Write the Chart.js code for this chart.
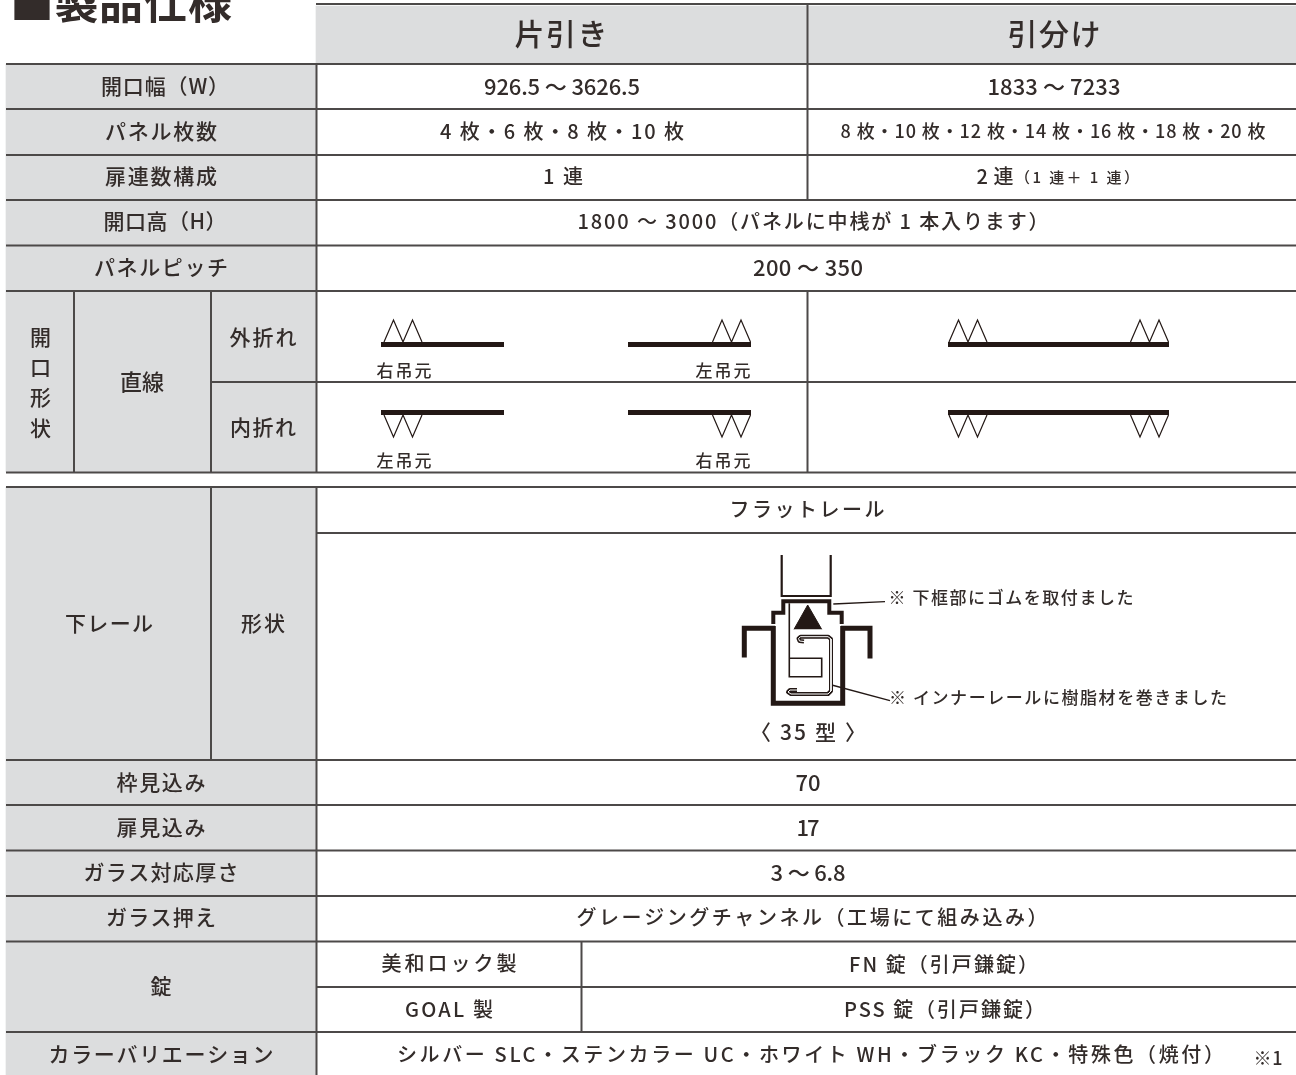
<!DOCTYPE html>
<html lang="ja">
<head>
<meta charset="utf-8">
<title>製品仕様</title>
<script src="https://cdn.jsdelivr.net/npm/chart.js@4"></script>
<style>
  html, body { margin: 0; padding: 0; background: #fff; }
  canvas { display: block; }
</style>
</head>
<body>
<canvas id="myChart" width="1296" height="1075"></canvas>
<script>
// table contents
const heading = ['■製品仕様'];
const columnHeads = ['片引き', '引分け'];
const upperLabels = ['開口幅（W）', 'パネル枚数', '扉連数構成', '開口高（H）', 'パネルピッチ'];
const katabikiValues = ['926.5 〜 3626.5', '4 枚・6 枚・8 枚・10 枚', '1 連'];
const hikiwakeValues = ['1833 〜 7233', '8 枚・10 枚・12 枚・14 枚・16 枚・18 枚・20 枚', '2 連', '（1 連＋ 1 連）'];
const sharedValues = ['1800 〜 3000（パネルに中桟が 1 本入ります）', '200 〜 350'];
const openingLabels = ['開', '口', '形', '状', '直線', '外折れ', '内折れ'];
const hangLabels = ['右吊元', '左吊元', '左吊元', '右吊元'];
const railLabels = ['下レール', '形状', 'フラットレール', '※ 下框部にゴムを取付ました', '※ インナーレールに樹脂材を巻きました', '〈 35 型 〉'];
const lowerLabels = ['枠見込み', '扉見込み', 'ガラス対応厚さ', 'ガラス押え', '錠', 'カラーバリエーション'];
const lowerValues = ['70', '17', '3 〜 6.8', 'グレージングチャンネル（工場にて組み込み）'];
const lockMakers = ['美和ロック製', 'GOAL 製'];
const lockTypes = ['FN 錠（引戸鎌錠）', 'PSS 錠（引戸鎌錠）'];
const colorValues = ['シルバー SLC・ステンカラー UC・ホワイト WH・ブラック KC・特殊色（焼付）', '※1'];

const GRAY = '#dcddde';
const RULE = '#4c4948';
const INK = '#231815';
const TEXT = '#332c2a';
const FONT = '"Noto Sans CJK JP", "Noto Sans", sans-serif';

// text placement: [centre x, centre y, font size, width on the page]
function place(texts, spots, weight) {
    return texts.map((t, i) => ({ t: t, x: spots[i][0], y: spots[i][1], size: spots[i][2], w: spots[i][3], weight: weight || 500 }));
}
const labels = [].concat(
    place(heading, [[121, 3, 44, 222]], 700),
    place(columnHeads, [[561, 34, 30, 93], [1054, 34, 30, 93]]),
    place(upperLabels, [[165, 87, 21, 128], [161, 132, 21, 112], [161, 177, 21, 112], [165, 222, 21, 123], [161, 268, 21, 134]]),
    place(katabikiValues, [[562, 87, 22, 156], [562, 132, 20, 244], [563, 177, 20, 40]]),
    place(hikiwakeValues, [[1054, 87, 22, 133], [1053, 132, 18, 425], [995, 177, 20, 37], [1077, 178, 15, 124]]),
    place(sharedValues, [[813, 222, 20, 471], [808, 268, 22, 110]]),
    place(openingLabels, [[40, 338, 21, 20], [40, 368, 21, 20], [40, 398, 21, 20], [40, 429, 21, 20],
        [142, 382, 22, 44], [263, 338, 21, 67], [263, 428, 21, 66]]),
    place(hangLabels, [[404, 371, 17, 55], [723, 371, 17, 55], [404, 461, 17, 55], [723, 461, 17, 55]]),
    place(railLabels, [[109, 624, 21, 88], [263, 624, 21, 44], [807, 510, 20, 155],
        [1011, 598, 17, 245], [1058, 698, 17, 338], [808, 733, 21, 116]]),
    place(lowerLabels, [[161, 783, 21, 89], [161, 828, 21, 89], [161, 873, 21, 155], [161, 918, 21, 110], [161, 987, 21, 21], [161, 1055, 21, 225]]),
    place(lowerValues, [[808, 783, 22, 25], [808, 828, 22, 23], [808, 873, 22, 75], [812, 918, 20, 471]]),
    place(lockMakers, [[449, 964, 20, 135], [449, 1010, 20, 88]]),
    place(lockTypes, [[943.5, 965, 20, 189], [944.5, 1010, 20, 201]]),
    place(colorValues, [[810.5, 1055, 20, 827], [1268, 1059, 18, 29]])
);

// gray cells: [left, right, top, bottom]
const grayCells = [
    [316, 1296, 6, 64],
    [6, 316, 64, 291],
    [6, 316, 291, 472],
    [6, 316, 487, 760],
    [6, 316, 760, 1075]
];
// rules: [x1, y1, x2, y2]
const rules = [
    [316, 4, 1296, 4], [6, 64, 1296, 64], [6, 109, 1296, 109], [6, 155, 1296, 155], [6, 200, 1296, 200],
    [6, 245.5, 1296, 245.5], [6, 291, 1296, 291], [211, 382, 1296, 382], [6, 472.5, 1296, 472.5],
    [6, 487, 1296, 487], [316, 533, 1296, 533], [6, 760, 1296, 760], [6, 805, 1296, 805], [6, 850.5, 1296, 850.5],
    [6, 896, 1296, 896], [6, 941.5, 1296, 941.5], [316, 987, 1296, 987], [6, 1032, 1296, 1032],
    [74, 291, 74, 472], [211, 291, 211, 472], [211, 487, 211, 760],
    [316.5, 64, 316.5, 472], [316.5, 487, 316.5, 1075],
    [807.5, 4, 807.5, 200], [807.5, 291, 807.5, 472], [581.5, 941, 581.5, 1032]
];

function poly(points, width, color, extra) {
    return Object.assign({
        type: 'scatter',
        showLine: true,
        data: points.map(p => ({ x: p[0], y: p[1] })),
        borderColor: color,
        backgroundColor: color,
        borderWidth: width,
        pointRadius: 0,
        tension: 0,
        order: 1
    }, extra || {});
}

// two linked folds of a panel, drawn from one hinge
function folds(left, step, base, tip) {
    return [[left, base], [left + step / 2, tip], [left + step, base], [left + step * 1.5, tip], [left + step * 2, base]];
}

const datasets = [];
grayCells.forEach(c => {
    datasets.push({
        type: 'bar',
        data: [{ x: (c[0] + c[1]) / 2, y: [c[2], c[3]] }],
        backgroundColor: GRAY,
        barThickness: c[1] - c[0],
        grouped: false,
        borderWidth: 0,
        order: 5
    });
});
rules.forEach(r => datasets.push(poly([[r[0], r[1]], [r[2], r[3]]], 2, RULE, { order: 4 })));

// opening shape diagrams
[[381, 504], [628, 751], [948, 1169]].forEach(b => {
    datasets.push(poly([[b[0], 344.5], [b[1], 344.5]], 5, INK));
    datasets.push(poly([[b[0], 412.5], [b[1], 412.5]], 5, INK));
});
[384, 712.5, 949, 1130.5].forEach(x => {
    datasets.push(poly(folds(x, 19, 342, 320), 1.2, INK, { order: 2 }));
    datasets.push(poly(folds(x, 19, 415, 437), 1.2, INK, { order: 2 }));
});

// flat rail section
datasets.push(poly([[781.7, 555], [781.7, 596], [830.7, 596], [830.7, 555]], 2.2, INK));
datasets.push(poly([[773.3, 624], [773.3, 612.7], [783.3, 612.7], [783.3, 601.3], [829.3, 601.3], [829.3, 612.7], [841.7, 612.7], [841.7, 624]], 4, INK));
datasets.push(poly([[773.3, 626], [773.3, 703.3], [842.7, 703.3], [842.7, 626]], 5, INK));
datasets.push(poly([[744.3, 657.5], [744.3, 628.3], [775, 628.3]], 5, INK));
datasets.push(poly([[870, 658.5], [870, 628.3], [841, 628.3]], 5, INK));
datasets.push(poly([[789.3, 603.3], [789.3, 676.7], [821.7, 676.7], [821.7, 658.3], [789.3, 658.3]], 1.6, INK));
datasets.push(poly([[794, 629.3], [807.7, 605], [821.7, 629.3]], 1, INK, { fill: { target: { value: 629.3 } } }));
const railHook = [[804, 641.5], [799.5, 641], [798.5, 638.5], [800.5, 636.7], [828, 636.7], [831, 639], [831, 691], [828, 694], [791, 694], [788, 692], [790, 690], [797, 690]];
datasets.push(poly(railHook, 1, '#fff', { borderJoinStyle: 'round', order: 0 }));
datasets.push(poly(railHook, 4, INK, { borderJoinStyle: 'round', order: 1 }));
datasets.push(poly([[833.3, 604], [885, 601.7]], 1.3, INK));
datasets.push(poly([[831.7, 685], [890, 700.7]], 1.3, INK));

const tableText = {
    id: 'tableText',
    afterDatasetsDraw(chart) {
        const ctx = chart.ctx;
        const sx = chart.scales.x;
        const sy = chart.scales.y;
        ctx.save();
        ctx.fillStyle = TEXT;
        ctx.textAlign = 'left';
        ctx.textBaseline = 'middle';
        labels.forEach(l => {
            ctx.font = l.weight + ' ' + l.size + 'px ' + FONT;
            ctx.letterSpacing = '0px';
            const natural = ctx.measureText(l.t).width;
            const gaps = Math.max(Array.from(l.t).length - 1, 1);
            ctx.letterSpacing = ((l.w - natural) / gaps).toFixed(3) + 'px';
            ctx.fillText(l.t, sx.getPixelForValue(l.x - l.w / 2), sy.getPixelForValue(l.y) - 0.5);
        });
        ctx.restore();
    }
};

const ctx = document.getElementById('myChart').getContext('2d');
new Chart(ctx, {
    type: 'bar',
    data: { datasets: datasets },
    options: {
        responsive: false,
        animation: false,
        layout: { padding: 0 },
        plugins: { legend: { display: false }, tooltip: { enabled: false } },
        scales: {
            x: { type: 'linear', min: 0, max: 1296, display: false, offset: false },
            y: { type: 'linear', min: 0, max: 1075, reverse: true, display: false }
        }
    },
    plugins: [tableText]
});
</script>
</body>
</html>
